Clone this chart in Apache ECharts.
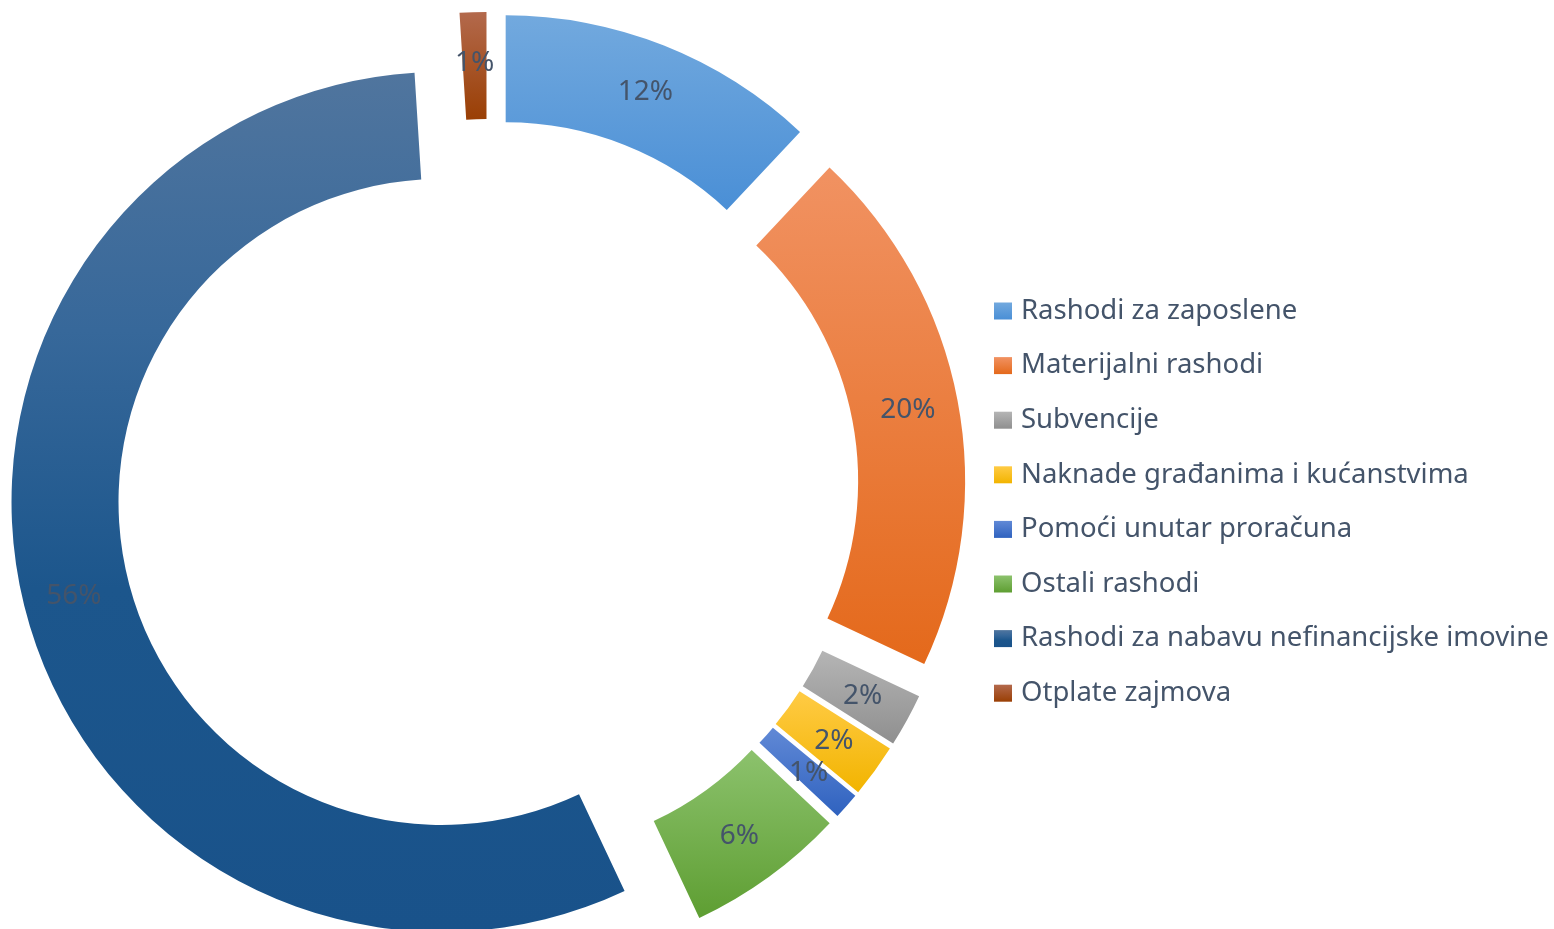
<!DOCTYPE html>
<html>
<head>
<meta charset="utf-8">
<style>
  html, body { margin: 0; padding: 0; background: #fff; }
  #mainChart { width: 1554px; height: 929px; }
</style>
<script src="https://cdn.jsdelivr.net/npm/echarts@6/dist/echarts.min.js"></script>
</head>
<body>
<div id="mainChart"></div>
<script>
// kategorije i udjeli (%)
var categories = [
  "Rashodi za zaposlene",
  "Materijalni rashodi",
  "Subvencije",
  "Naknade građanima i kućanstvima",
  "Pomoći unutar proračuna",
  "Ostali rashodi",
  "Rashodi za nabavu nefinancijske imovine",
  "Otplate zajmova"
];
var values = [12, 20, 2, 2, 1, 6, 56, 1];

// gradijent boje (gore -> dolje)
var topColors = ["#72a9de", "#f19262", "#b5b5b5", "#ffcb45", "#6189d6", "#8cc26d", "#50759e", "#b3694c"];
var bottomColors = ["#4a8fd6", "#e4691b", "#8f8f8f", "#f2b400", "#2f62bf", "#5e9e32", "#19528a", "#9a3f04"];

function grad(i) {
  if (i === 6) {
    // veliki segment - tamni dio dominira donjom polovinom
    return new echarts.graphic.LinearGradient(0, 0, 0, 1, [
      { offset: 0, color: topColors[i] },
      { offset: 0.3, color: "#37689a" },
      { offset: 0.6, color: "#1c568c" },
      { offset: 1, color: bottomColors[i] }
    ]);
  }
  return new echarts.graphic.LinearGradient(0, 0, 0, 1, [
    { offset: 0, color: topColors[i] },
    { offset: 1, color: bottomColors[i] }
  ]);
}

var chart = echarts.init(document.getElementById("mainChart"));

var seriesData = categories.map(function (name, i) {
  return {
    name: name,
    value: values[i],
    selected: true,
    itemStyle: { color: grad(i) }
  };
});

var option = {
  animation: false,
  legend: {
    orient: "vertical",
    left: 994,
    top: 296,
    padding: 0,
    itemWidth: 18,
    itemHeight: 17,
    itemGap: 24.6,
    icon: "rect",
    data: categories,
    textStyle: {
      color: "#44546a",
      fontFamily: "Noto Sans",
      fontSize: 27.5,
      lineHeight: 30,
      padding: [0, 0, 0, 4]
    }
  },
  series: [
    {
      type: "pie",
      center: [488, 490],
      radius: [323, 430],
      startAngle: 90,
      clockwise: true,
      selectedMode: "multiple",
      selectedOffset: 48,
      avoidLabelOverlap: false,
      emphasis: { disabled: true },
      label: {
        show: true,
        position: "inside",
        offset: [0, 4],
        color: "#44546a",
        fontFamily: "Noto Sans",
        fontSize: 28,
        formatter: function (p) {
          return Math.round(p.percent) + "%";
        }
      },
      labelLine: { show: false },
      data: seriesData
    }
  ]
};

chart.setOption(option);
</script>
</body>
</html>
